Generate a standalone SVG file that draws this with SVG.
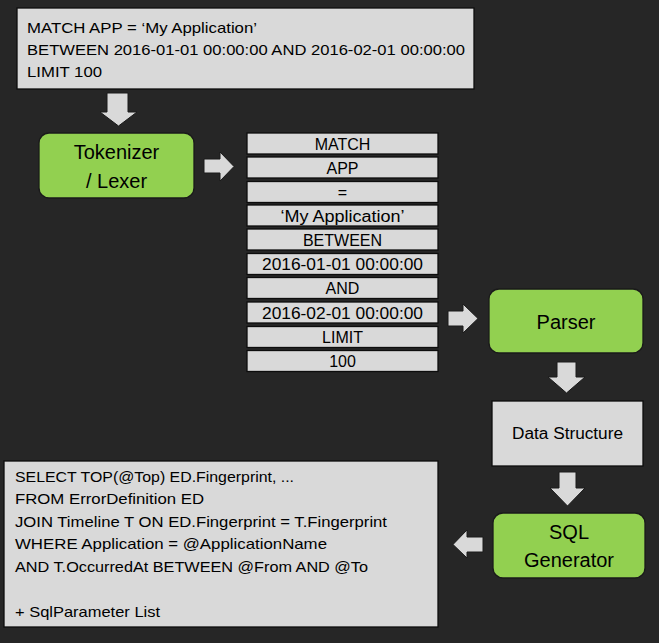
<svg xmlns="http://www.w3.org/2000/svg" width="659" height="643" viewBox="0 0 659 643">
<style>
.box{fill:#d9d9d9;stroke:#0d0d0d;stroke-width:1.3}
.green{fill:#92d050;stroke:#1a1a1a;stroke-width:1.3}
.arrow{fill:#d9d9d9;stroke:#1a1a1a;stroke-width:1}
text{font-family:"Liberation Sans",Arial,sans-serif;fill:#000}
.t{font-size:15px}
.c{font-size:16px;text-anchor:middle}
.g{font-size:20px;text-anchor:middle}
</style>
<rect width="659" height="643" fill="#262626"/>
<g id="query">
<rect class="box" x="17" y="8" width="457" height="81"/>
<text class="t" x="27" y="33" textLength="230" lengthAdjust="spacingAndGlyphs">MATCH APP = ‘My Application’</text>
<text class="t" x="27" y="55" textLength="438" lengthAdjust="spacingAndGlyphs">BETWEEN 2016-01-01 00:00:00 AND 2016-02-01 00:00:00</text>
<text class="t" x="27" y="77" textLength="75" lengthAdjust="spacingAndGlyphs">LIMIT 100</text>
</g>
<g id="tokenizer">
<rect class="green" x="39" y="133" width="155" height="65" rx="10"/>
<text class="g" x="116.5" y="159">Tokenizer</text>
<text class="g" x="116.5" y="188">/ Lexer</text>
</g>
<g id="tokens">
<rect class="box" x="247" y="133" width="191" height="21"/>
<text class="c" x="342.5" y="149.5">MATCH</text>
<rect class="box" x="247" y="157" width="191" height="21"/>
<text class="c" x="342.5" y="173.5">APP</text>
<rect class="box" x="247" y="181.5" width="191" height="21"/>
<text class="c" x="342.5" y="198">=</text>
<rect class="box" x="247" y="205" width="191" height="21"/>
<text class="c" x="342.5" y="221.5" textLength="124" lengthAdjust="spacingAndGlyphs">‘My Application’</text>
<rect class="box" x="247" y="229" width="191" height="21"/>
<text class="c" x="342.5" y="245.5">BETWEEN</text>
<rect class="box" x="247" y="253.5" width="191" height="21"/>
<text class="c" x="342.5" y="270" textLength="161" lengthAdjust="spacingAndGlyphs">2016-01-01 00:00:00</text>
<rect class="box" x="247" y="277.5" width="191" height="21"/>
<text class="c" x="342.5" y="294">AND</text>
<rect class="box" x="247" y="302" width="191" height="21"/>
<text class="c" x="342.5" y="318.5" textLength="161" lengthAdjust="spacingAndGlyphs">2016-02-01 00:00:00</text>
<rect class="box" x="247" y="326.5" width="191" height="21"/>
<text class="c" x="342.5" y="343">LIMIT</text>
<rect class="box" x="247" y="350.5" width="191" height="21"/>
<text class="c" x="342.5" y="367">100</text>
</g>
<g id="parser">
<rect class="green" x="489" y="289" width="154" height="64" rx="10"/>
<text class="g" x="566" y="329">Parser</text>
</g>
<g id="datastructure">
<rect class="box" x="492" y="401" width="151" height="65"/>
<text class="c" x="567.5" y="439" textLength="111" lengthAdjust="spacingAndGlyphs">Data Structure</text>
</g>
<g id="sqlgenerator">
<rect class="green" x="493" y="513" width="152" height="65" rx="10"/>
<text class="g" x="569" y="539">SQL</text>
<text class="g" x="569" y="567">Generator</text>
</g>
<g id="sql">
<rect class="box" x="4" y="461" width="434" height="166"/>
<text class="t" x="15" y="482" textLength="279" lengthAdjust="spacingAndGlyphs">SELECT TOP(@Top) ED.Fingerprint, ...</text>
<text class="t" x="15" y="504" textLength="189" lengthAdjust="spacingAndGlyphs">FROM ErrorDefinition ED</text>
<text class="t" x="15" y="527" textLength="372" lengthAdjust="spacingAndGlyphs">JOIN Timeline T ON ED.Fingerprint = T.Fingerprint</text>
<text class="t" x="15" y="549" textLength="312" lengthAdjust="spacingAndGlyphs">WHERE Application = @ApplicationName</text>
<text class="t" x="15" y="572" textLength="353" lengthAdjust="spacingAndGlyphs">AND T.OccurredAt BETWEEN @From AND @To</text>
<text class="t" x="15" y="617" textLength="145" lengthAdjust="spacingAndGlyphs">+ SqlParameter List</text>
</g>
<g id="connectors">
<polygon class="arrow" points="107,93 128,93 128,112 137,112 118.5,126 100,112 107,112"/>
<polygon class="arrow" points="204,159 220,159 220,152 234,166.5 220,181 220,173 204,173"/>
<polygon class="arrow" points="448,311 463,311 463,304 478,318.5 463,333 463,326 448,326"/>
<polygon class="arrow" points="557,362 576,362 576,377 585,377 566.5,393 548,377 557,377"/>
<polygon class="arrow" points="559,472 576,472 576,488 585,488 567.5,506 550,488 559,488"/>
<polygon class="arrow" points="483,537 483,552 467,552 467,558 453,544.5 467,530 467,537"/>
</g>
</svg>
